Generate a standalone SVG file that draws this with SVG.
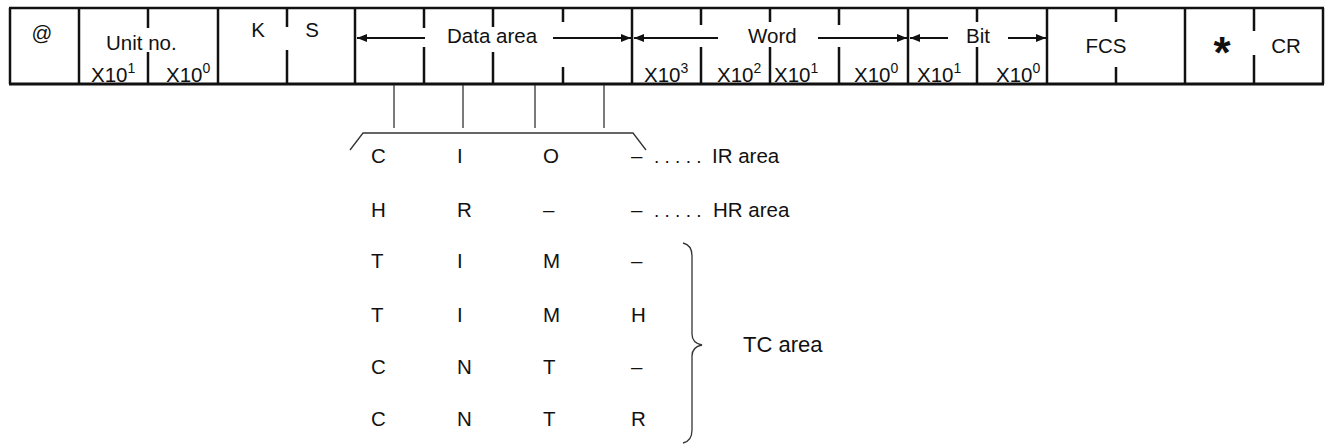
<svg xmlns="http://www.w3.org/2000/svg" width="1327" height="444" viewBox="0 0 1327 444">
<style>
text{font-family:"Liberation Sans",Arial,sans-serif;font-size:20.5px;fill:#111}
.sup{font-size:14px}
.f{stroke:#111;stroke-width:2.5;fill:none}
.p{stroke:#111;stroke-width:2.5;fill:none}
.t{stroke:#333;stroke-width:1.3;fill:none}
.a{stroke:#111;stroke-width:2;fill:none}
.big{font-size:22px}
</style>
<defs>
<marker id="ah" viewBox="0 0 10 8" refX="10" refY="4" markerWidth="10" markerHeight="8" markerUnits="userSpaceOnUse" orient="auto">
<path d="M0,0 L10,4 L0,8 z" fill="#111"/>
</marker>
</defs>
<g id="frame">
<line class="f" x1="9" y1="8" x2="1324" y2="8"/>
<line class="f" x1="9" y1="84" x2="1324" y2="84" style="stroke-width:3"/>
<line class="f" x1="10" y1="8" x2="10" y2="84"/>
<line class="f" x1="79" y1="8" x2="79" y2="84"/>
<line class="f" x1="218" y1="8" x2="218" y2="84"/>
<line class="f" x1="355" y1="8" x2="355" y2="84"/>
<line class="f" x1="632" y1="8" x2="632" y2="84"/>
<line class="f" x1="908" y1="8" x2="908" y2="84"/>
<line class="f" x1="1047" y1="8" x2="1047" y2="84"/>
<line class="f" x1="1185" y1="8" x2="1185" y2="84"/>
<line class="f" x1="1323" y1="8" x2="1323" y2="84"/>
<path class="p" d="M148,8V28M148,52V84"/>
<path class="p" d="M287,8V27M287,50V84"/>
<path class="p" d="M424,8V28M424,47V84"/>
<path class="p" d="M493,8V27M493,52V84"/>
<path class="p" d="M563,8V22M563,67V84"/>
<path class="p" d="M701,8V25M701,47V84"/>
<path class="p" d="M770,8V22M770,47V84"/>
<path class="p" d="M839,8V25M839,47V84"/>
<path class="p" d="M977,8V22M977,47V84"/>
<path class="p" d="M1116,8V22M1116,67V84"/>
<path class="p" d="M1254,8V31M1254,55V84"/>
</g>
<g id="cell-at"><text x="42" y="40" text-anchor="middle">@</text></g>
<g id="cell-unit">
<text x="106" y="50">Unit no.</text>
<text x="91" y="82">X10<tspan class="sup" dy="-9">1</tspan></text>
<text x="166" y="82">X10<tspan class="sup" dy="-9">0</tspan></text>
</g>
<g id="cell-ks">
<text x="258" y="37" text-anchor="middle">K</text>
<text x="312" y="37" text-anchor="middle">S</text>
</g>
<g id="cell-data"><text x="447" y="43">Data area</text></g>
<g id="cell-word">
<text x="748" y="43">Word</text>
<text x="644" y="82">X10<tspan class="sup" dy="-9">3</tspan></text>
<text x="717" y="82">X10<tspan class="sup" dy="-9">2</tspan></text>
<text x="774" y="82">X10<tspan class="sup" dy="-9">1</tspan></text>
<text x="854" y="82">X10<tspan class="sup" dy="-9">0</tspan></text>
</g>
<g id="cell-bit">
<text x="966" y="43">Bit</text>
<text x="917" y="82">X10<tspan class="sup" dy="-9">1</tspan></text>
<text x="996" y="82">X10<tspan class="sup" dy="-9">0</tspan></text>
</g>
<g id="cell-fcs"><text x="1106" y="53" text-anchor="middle">FCS</text></g>
<g id="cell-star"><text x="1222" y="68" text-anchor="middle" style="font-size:44px;font-weight:bold">*</text></g>
<g id="cell-cr"><text x="1286" y="53" text-anchor="middle">CR</text></g>
<g id="connectors">
<line class="a" x1="425" y1="38" x2="357" y2="38" marker-end="url(#ah)"/>
<line class="a" x1="553" y1="38" x2="631" y2="38" marker-end="url(#ah)"/>
<line class="a" x1="718" y1="38" x2="634" y2="38" marker-end="url(#ah)"/>
<line class="a" x1="818" y1="38" x2="907" y2="38" marker-end="url(#ah)"/>
<line class="a" x1="948" y1="38" x2="910" y2="38" marker-end="url(#ah)"/>
<line class="a" x1="1008" y1="38" x2="1046" y2="38" marker-end="url(#ah)"/>
<line class="t" x1="394" y1="85" x2="394" y2="128"/>
<line class="t" x1="463" y1="85" x2="463" y2="128"/>
<line class="t" x1="535" y1="85" x2="535" y2="128"/>
<line class="t" x1="604" y1="85" x2="604" y2="128"/>
<path class="t" d="M350,150 L363,133 H633 L646,150"/>
<path class="t" d="M683,243 Q692,245 692,256 V334 Q692,343 702,345 Q692,347 692,356 V430 Q692,441 683,443"/>
</g>
<g id="table">
<text x="371" y="163">C</text><text x="457" y="163">I</text><text x="543" y="163">O</text><text x="631" y="163">–</text>
<text x="371" y="217">H</text><text x="457" y="217">R</text><text x="543" y="217">–</text><text x="631" y="217">–</text>
<text x="371" y="268">T</text><text x="457" y="268">I</text><text x="543" y="268">M</text><text x="631" y="268">–</text>
<text x="371" y="322">T</text><text x="457" y="322">I</text><text x="543" y="322">M</text><text x="631" y="322">H</text>
<text x="371" y="374">C</text><text x="457" y="374">N</text><text x="543" y="374">T</text><text x="631" y="374">–</text>
<text x="371" y="426">C</text><text x="457" y="426">N</text><text x="543" y="426">T</text><text x="631" y="426">R</text>
</g>
<g id="ir-label"><text x="654" y="163" style="font-size:19px">. . . . .</text><text x="712" y="163">IR area</text></g>
<g id="hr-label"><text x="654" y="217" style="font-size:19px">. . . . .</text><text x="713" y="217">HR area</text></g>
<g id="tc-label"><text x="743" y="352" class="big">TC area</text></g>
</svg>
